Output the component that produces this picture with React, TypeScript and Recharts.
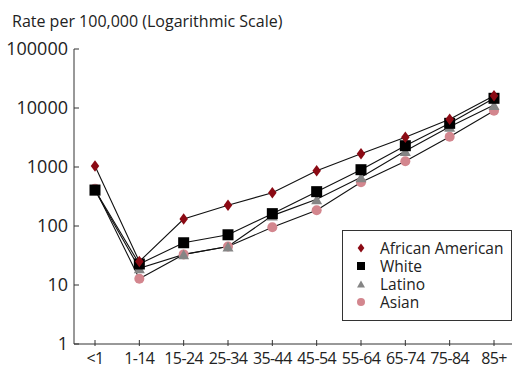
import { LineChart, Line, XAxis, YAxis } from 'recharts'

const ageGroups = ['<1', '1-14', '15-24', '25-34', '35-44', '45-54', '55-64', '65-74', '75-84', '85+']
const africanAmerican = [1040, 25, 131, 224, 367, 865, 1680, 3185, 6430, 16150]
const white = [407, 22.7, 52, 71, 162, 382, 900, 2296, 5500, 14600]
const latino = [400, 19.2, 33, 45, 150, 283, 668, 1867, 4800, 11250]
const asian = [430, 12.8, 33, 45, 95, 185, 550, 1250, 3265, 9000]
const yTicks = [1, 10, 100, 1000, 10000, 100000]

const data = ageGroups.map((age, i) => ({
  age,
  africanAmerican: africanAmerican[i],
  white: white[i],
  latino: latino[i],
  asian: asian[i],
}))

const FONT = '"Open Sans", "DejaVu Sans", sans-serif'
const AXIS = '#333'
const RED = '#8b0a14'
const GRAY = '#858585'
const PINK = '#d3868e'

type Kind = 'diamond' | 'square' | 'triangle' | 'circle'

function Marker({ kind, cx, cy, s }: { kind: Kind; cx: number; cy: number; s: number }) {
  if (kind === 'diamond') {
    const w = s * 0.85
    const h = s * 1.15
    return <polygon points={`${cx},${cy - h / 2} ${cx + w / 2},${cy} ${cx},${cy + h / 2} ${cx - w / 2},${cy}`} fill={RED} />
  }
  if (kind === 'square') {
    return <rect x={cx - s / 2} y={cy - s / 2} width={s} height={s} fill="#000" />
  }
  if (kind === 'triangle') {
    const h = s * 0.9
    return <polygon points={`${cx},${cy - h / 2} ${cx + s / 2},${cy + h / 2} ${cx - s / 2},${cy + h / 2}`} fill={GRAY} />
  }
  return <circle cx={cx} cy={cy} r={s / 2} fill={PINK} />
}

// marker size per series, in px
const dotSize: Record<Kind, number> = { diamond: 10, square: 11, triangle: 11, circle: 10 }

const dotFor = (kind: Kind) => (p: any) => {
  if (p.cx == null || p.cy == null) return <g key={p.index} />
  return (
    <g key={`${kind}-${p.index}`}>
      <Marker kind={kind} cx={p.cx} cy={p.cy} s={dotSize[kind]} />
    </g>
  )
}

const YTick = (p: any) => (
  <g>
    <line x1={p.x} x2={p.x + 5} y1={p.y} y2={p.y} stroke={AXIS} strokeWidth={1} />
    <text x={p.x - 6} y={p.y} dy="0.36em" textAnchor="end" fontSize={18} fill="#222" fontFamily={FONT}>
      {p.payload.value}
    </text>
  </g>
)

const XTick = (p: any) => (
  <g>
    <line x1={p.x} x2={p.x} y1={p.y} y2={p.y - 6} stroke={AXIS} strokeWidth={1} />
    <text x={p.x} y={p.y + 18} textAnchor="middle" fontSize={16} letterSpacing={-0.6} fill="#222" fontFamily={FONT}>
      {p.payload.value}
    </text>
  </g>
)

const legendItems: { label: string; kind: Kind }[] = [
  { label: 'African American', kind: 'diamond' },
  { label: 'White', kind: 'square' },
  { label: 'Latino', kind: 'triangle' },
  { label: 'Asian', kind: 'circle' },
]

export default function App() {
  return (
    <div style={{ position: 'absolute', left: 0, top: 0, width: 512, height: 366, background: '#fff', overflow: 'hidden' }}>
      <div style={{ position: 'absolute', left: 12, top: 10, fontFamily: FONT, fontSize: 16, color: '#222', whiteSpace: 'nowrap' }}>
        Rate per 100,000 (Logarithmic Scale)
      </div>
      <LineChart width={512} height={366} data={data} margin={{ top: 49, right: 0, bottom: 0, left: 0 }}>
        <XAxis
          dataKey="age"
          height={22}
          padding={{ left: 21, right: 18 }}
          stroke={AXIS}
          tickSize={0}
          tickLine={false}
          tick={<XTick />}
          interval={0}
        />
        <YAxis
          scale="log"
          domain={[1, 100000]}
          ticks={yTicks}
          width={74}
          stroke={AXIS}
          tickSize={0}
          tickMargin={0}
          tickLine={false}
          tick={<YTick />}
          interval={0}
          allowDataOverflow
        />
        <Line dataKey="asian" stroke="#111" strokeWidth={1.1} dot={dotFor('circle')} isAnimationActive={false} />
        <Line dataKey="latino" stroke="#111" strokeWidth={1.1} dot={dotFor('triangle')} isAnimationActive={false} />
        <Line dataKey="white" stroke="#111" strokeWidth={1.1} dot={dotFor('square')} isAnimationActive={false} />
        <Line dataKey="africanAmerican" stroke="#111" strokeWidth={1.1} dot={dotFor('diamond')} isAnimationActive={false} />
      </LineChart>
      <div
        style={{
          position: 'absolute',
          left: 342,
          top: 230,
          width: 170,
          height: 91,
          border: `1px solid ${AXIS}`,
          background: '#fff',
          boxSizing: 'border-box',
          paddingTop: 8,
        }}
      >
        {legendItems.map((it) => (
          <div
            key={it.label}
            style={{
              display: 'flex',
              alignItems: 'center',
              height: 18,
              lineHeight: '18px',
              fontFamily: FONT,
              fontSize: 15.5,
              color: '#222',
              whiteSpace: 'nowrap',
            }}
          >
            <svg width={37} height={18} style={{ flex: 'none' }}>
              <Marker kind={it.kind} cx={18} cy={9} s={8} />
            </svg>
            <span>{it.label}</span>
          </div>
        ))}
      </div>
    </div>
  )
}
